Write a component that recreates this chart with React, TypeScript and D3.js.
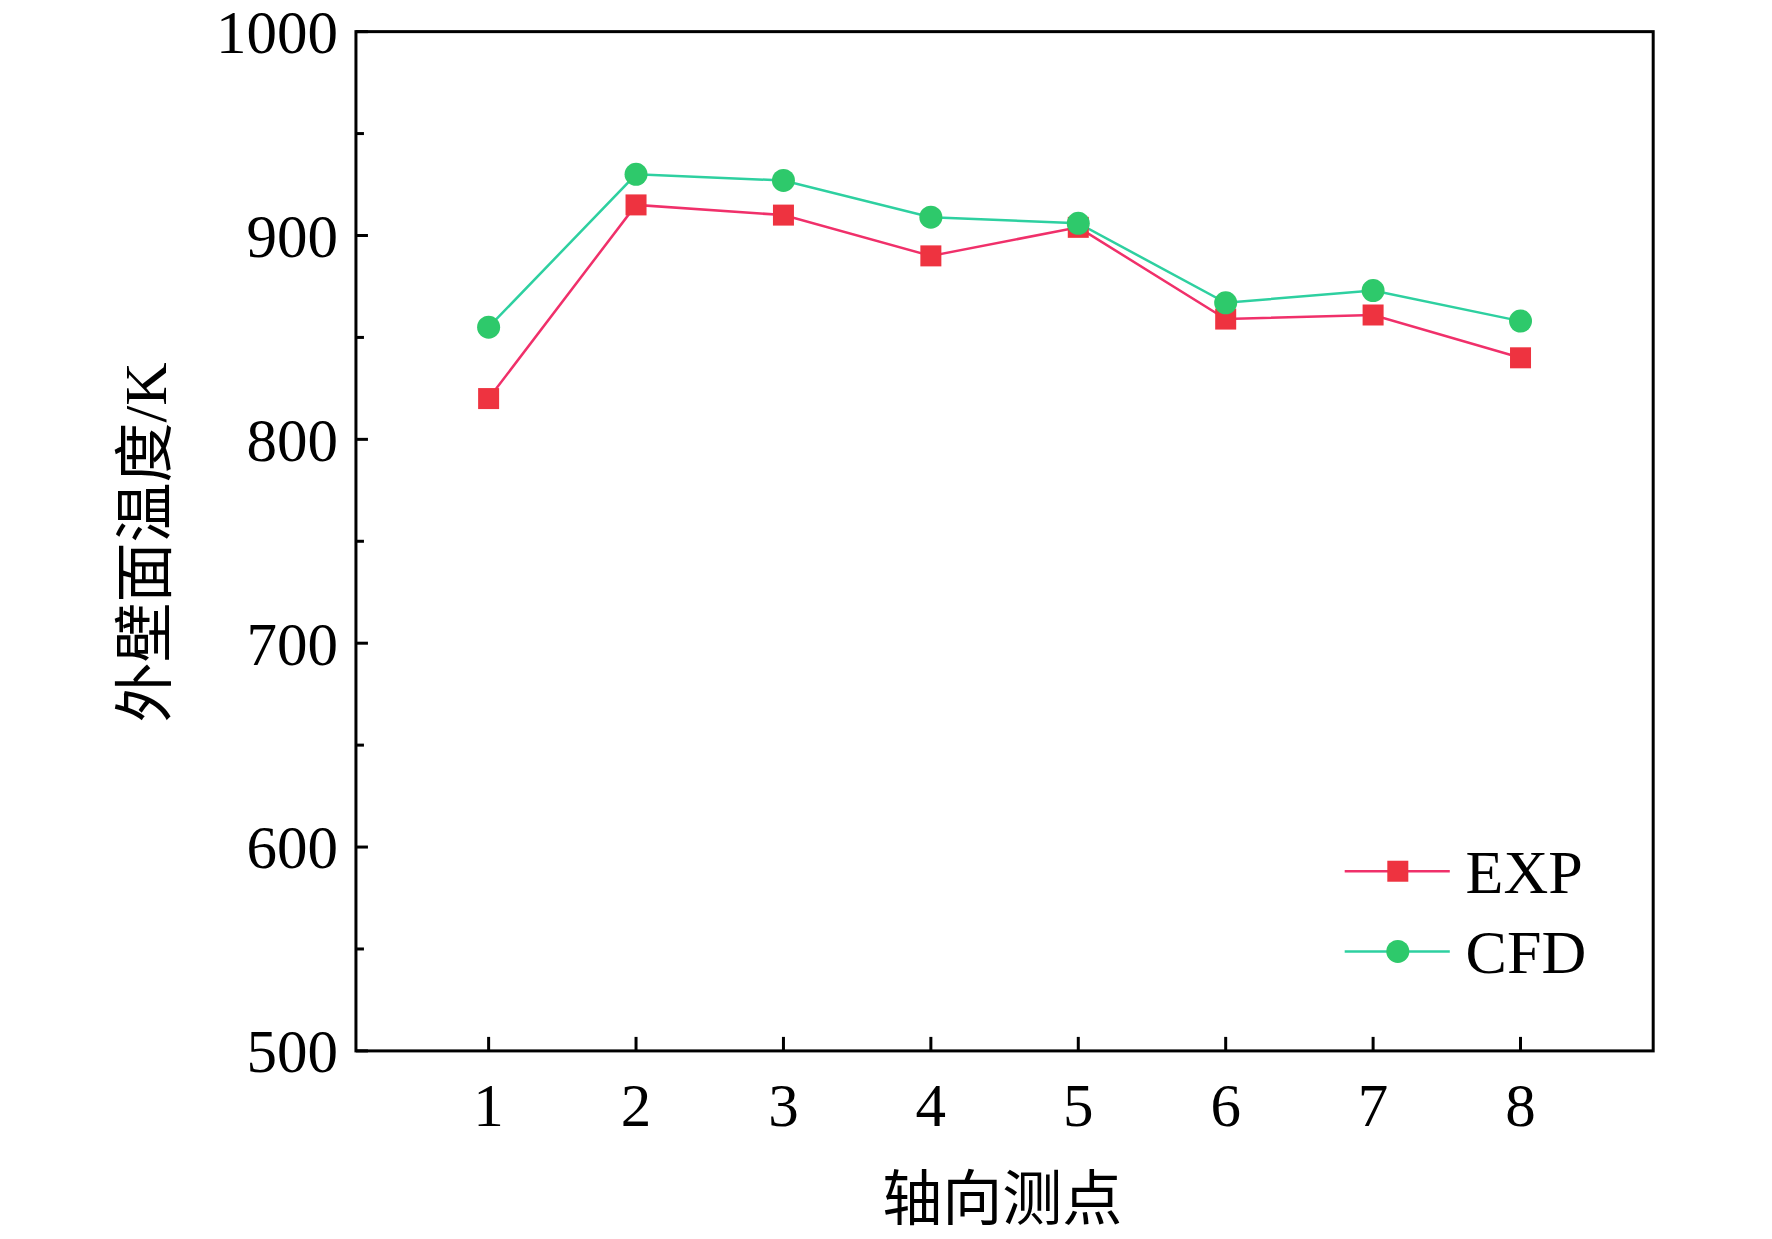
import * as d3 from 'd3'

const points = [1, 2, 3, 4, 5, 6, 7, 8]
const expValues = [820, 915, 910, 890, 904, 859, 861, 840]
const cfdValues = [855, 930, 927, 909, 906, 867, 873, 858]
const yTicks = [500, 600, 700, 800, 900, 1000]
const yMinor = [550, 650, 750, 850, 950]

const W = 1772
const H = 1239
const S = 1.13
const M = { left: 315 * S, right: 1463 * S, top: 28 * S, bottom: 930 * S }
const FONT = '"Liberation Serif", "Times New Roman", serif'
const CJK = '"Noto Sans CJK SC", serif'
const RED = '#ee3340'
const RED_LINE = '#f0306a'
const GREEN = '#2ec96b'
const GREEN_LINE = '#2ed0a0'

export default function App() {
  const x = d3.scaleLinear().domain([0.1, 8.9]).range([M.left, M.right])
  const y = d3.scaleLinear().domain([500, 1000]).range([M.bottom, M.top])
  const line = d3
    .line<number>()
    .x((_, i) => x(points[i]))
    .y((d) => y(d))
  const ms = 21
  const r = 11.5
  const legX = 1237 * S

  return (
    <svg width={W} height={H} style={{ position: 'absolute', left: 0, top: 0, background: '#fff' }}>
      <rect x={M.left} y={M.top} width={M.right - M.left} height={M.bottom - M.top} fill="none" stroke="#000" strokeWidth={3} />
      {yTicks.map((t) => (
        <g key={t}>
          <line x1={M.left} x2={M.left + 12} y1={y(t)} y2={y(t)} stroke="#000" strokeWidth={3} />
          <text x={M.left - 18} y={y(t)} dy="0.35em" textAnchor="end" fontFamily={FONT} fontSize={61}>
            {t}
          </text>
        </g>
      ))}
      {yMinor.map((t) => (
        <line key={t} x1={M.left} x2={M.left + 8} y1={y(t)} y2={y(t)} stroke="#000" strokeWidth={3} />
      ))}
      {points.map((p) => (
        <g key={p}>
          <line x1={x(p)} x2={x(p)} y1={M.bottom} y2={M.bottom - 14} stroke="#000" strokeWidth={3} />
          <text x={x(p)} y={M.bottom + 75} textAnchor="middle" fontFamily={FONT} fontSize={61}>
            {p}
          </text>
        </g>
      ))}
      <path d={line(expValues) || ''} fill="none" stroke={RED_LINE} strokeWidth={2.5} />
      <path d={line(cfdValues) || ''} fill="none" stroke={GREEN_LINE} strokeWidth={2.5} />
      {expValues.map((v, i) => (
        <rect key={i} x={x(points[i]) - ms / 2} y={y(v) - ms / 2} width={ms} height={ms} fill={RED} />
      ))}
      {cfdValues.map((v, i) => (
        <circle key={i} cx={x(points[i])} cy={y(v)} r={r} fill={GREEN} />
      ))}
      <line x1={1190 * S} x2={1283 * S} y1={771 * S} y2={771 * S} stroke={RED_LINE} strokeWidth={2.5} />
      <rect x={legX - ms / 2} y={771 * S - ms / 2} width={ms} height={ms} fill={RED} />
      <text x={1297 * S} y={771 * S} dy="0.35em" fontFamily={FONT} fontSize={62}>EXP</text>
      <line x1={1190 * S} x2={1283 * S} y1={842 * S} y2={842 * S} stroke={GREEN_LINE} strokeWidth={2.5} />
      <circle cx={legX} cy={842 * S} r={r} fill={GREEN} />
      <text x={1297 * S} y={842 * S} dy="0.35em" fontFamily={FONT} fontSize={62}>CFD</text>
      <text x={887 * S} y={1080 * S} textAnchor="middle" fontFamily={CJK} fontSize={60}>轴向测点</text>
      <text
        transform={`translate(${128 * S},${480 * S}) rotate(-90)`}
        textAnchor="middle"
        dy="0.35em"
        fontFamily={FONT}
        fontSize={60}
      >
        <tspan fontFamily={CJK}>外壁面温度</tspan>/K
      </text>
    </svg>
  )
}
